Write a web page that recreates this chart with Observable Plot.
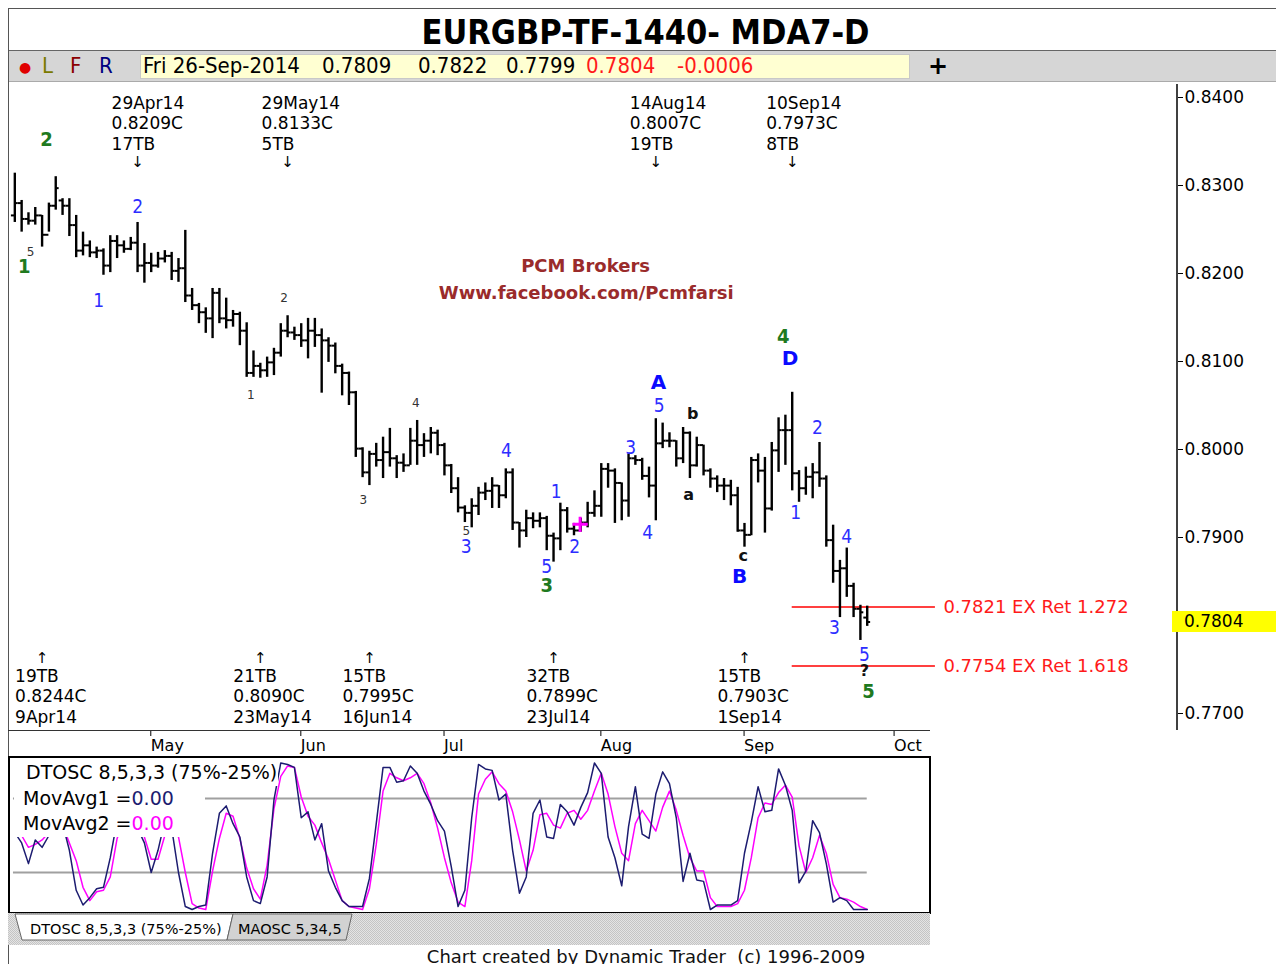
<!DOCTYPE html>
<html>
<head>
<meta charset="utf-8">
<script src="https://cdn.jsdelivr.net/npm/d3@7"></script>
<script src="https://cdn.jsdelivr.net/npm/@observablehq/plot@0.6"></script>
<style>
  html, body { margin:0; padding:0; background:#fff; }
  body { width:1276px; height:964px; overflow:hidden; position:relative; font-family:"DejaVu Sans", sans-serif; color:#000; }
  .a { position:absolute; }
  .cond { font-family:"DejaVu Sans Condensed","DejaVu Sans",sans-serif; font-stretch:condensed; }
  #frame { left:8px; top:8px; width:1268px; height:956px; border-left:1px solid #555; border-top:1px solid #555; box-sizing:border-box; }
  #title { left:0; width:1291px; top:12px; text-align:center; font-weight:bold; font-size:34px; line-height:40px; }
  #toolbar { left:9px; top:50px; width:1267px; height:32px; background:#d6d6d6; border-top:1px solid #666; border-bottom:1px solid #aaa; box-sizing:border-box; }
  #field { left:140px; top:54px; width:770px; height:25px; background:#ffffd2; border:1px solid #c8c8c8; box-sizing:border-box; }
  .tb { top:52px; font-size:22px; line-height:28px; white-space:pre; }
  #strip { left:8px; top:730px; width:922px; height:0; border-top:1px solid #333; }
  #oscBorder { left:8px; top:756px; width:923px; height:158px; border:2px solid #000; box-sizing:border-box; pointer-events:none; }
  .leg { background:#fff; font-size:19px; white-space:pre; }
  #leg1 { left:14px; top:759px; width:264px; height:27px; line-height:27px; padding-left:12px; box-sizing:border-box; }
  #leg2 { left:14px; top:786px; width:191px; height:51px; line-height:25px; padding-left:9px; box-sizing:border-box; }
  #tabs { left:8px; top:913px; width:922px; height:32px; background: repeating-conic-gradient(#c4c4c4 0 25%, #e4e4e4 0 50%) 0 0/2px 2px; }
  #footer { left:0; width:1292px; top:945px; text-align:center; font-size:18px; line-height:24px; white-space:pre; color:#111; }
</style>
</head>
<body>
<div class="a" id="frame"></div>
<div class="a cond" id="title">EURGBP-TF-1440- MDA7-D</div>
<div class="a" id="toolbar"></div>
<div class="a" id="field"></div>
<div class="a tb" style="left:19px;top:53px;font-size:14px;color:#e00000;">●</div>
<div class="a tb cond" style="left:42px;color:#7a7a00;">L</div>
<div class="a tb cond" style="left:70px;color:#8b0000;">F</div>
<div class="a tb cond" style="left:99px;color:#000080;">R</div>
<div class="a tb cond" style="left:143px;">Fri 26-Sep-2014</div>
<div class="a tb cond" style="left:322px;">0.7809</div>
<div class="a tb cond" style="left:418px;">0.7822</div>
<div class="a tb cond" style="left:506px;">0.7799</div>
<div class="a tb cond" style="left:586px;color:#ff1a1a;">0.7804</div>
<div class="a tb cond" style="left:677px;color:#ff1a1a;">-0.0006</div>
<div class="a tb" style="left:928px;font-weight:bold;font-size:24px;">+</div>
<div class="a" id="price" style="left:0;top:84px;"></div>
<div class="a" id="strip"></div>
<div class="a" id="osc" style="left:0;top:757px;"></div>
<div class="a leg" id="leg1">DTOSC 8,5,3,3 (75%-25%)</div>
<div class="a leg" id="leg2">MovAvg1 =<span style="color:#1c1c70">0.00</span>
MovAvg2 =<span style="color:#ff00ff">0.00</span></div>
<div class="a" id="oscBorder"></div>
<div class="a" id="tabs">
  <svg width="922" height="32" style="position:absolute;left:0;top:0;font-family:'DejaVu Sans',sans-serif;">
    <polygon points="7,1 225,1 219,27 14,27" fill="#fff" stroke="#666" stroke-width="1"/>
    <polygon points="225,1 344,1 338,27 219,27" fill="#d2d2d2" stroke="#666" stroke-width="1"/>
    <text x="22" y="21" font-size="14.5">DTOSC 8,5,3,3 (75%-25%)</text>
    <text x="230" y="21" font-size="14.5">MAOSC 5,34,5</text>
  </svg>
</div>
<div class="a" id="footer">Chart created by Dynamic Trader  (c) 1996-2009</div>

<script>
// ---------------- DATA ----------------
// bar sequence numbers (0 = 9 Apr 2014), one per trading day up to Fri 26 Sep 2014
const barIndex = d3.range(-4, 122);

const opens = [
 .8266,.8280,.8262,.8260,.8266,.8244,.8277,.8283,.8277,.8255,
 .8226,.8232,.8224,.8226,.8209,.8237,.8232,.8228,.8235,.8209,
 .8212,.8209,.8217,.8220,.8203,.8206,.8175,.8164,.8156,.8149,
 .8178,.8149,.8147,.8154,.8135,.8087,.8095,.8090,.8099,.8110,
 .8135,.8133,.8130,.8124,.8135,.8130,.8124,.8118,.8095,.8087,
 .8065,.8001,.7974,.7995,.7988,.7997,.7990,.7985,.7982,.8010,
 .8005,.8010,.8019,.8005,.7982,.7956,.7934,.7928,.7936,.7951,
 .7953,.7959,.7948,.7974,.7917,.7908,.7922,.7919,.7922,.7902,
 .7899,.7931,.7910,.7908,.7917,.7928,.7936,.7978,.7976,.7962,
 .7942,.7990,.7988,.7970,.7959,.8007,.8010,.8010,.7990,.8019,
 .7982,.8005,.7976,.7967,.7959,.7959,.7948,.7908,.7903,.7988,
 .7976,.7933,.7999,.8022,.8022,.7973,.7956,.7969,.7974,.7967,
 .7897,.7862,.7865,.7845,.7819,.7809];
const highs = [
 .8314,.8283,.8269,.8275,.8266,.8280,.8310,.8285,.8285,.8266,
 .8247,.8237,.8230,.8228,.8243,.8243,.8237,.8241,.8258,.8234,
 .8223,.8224,.8226,.8224,.8217,.8249,.8183,.8166,.8161,.8183,
 .8183,.8172,.8158,.8156,.8144,.8112,.8098,.8105,.8115,.8143,
 .8152,.8139,.8143,.8149,.8149,.8137,.8127,.8121,.8097,.8088,
 .8066,.8002,.7998,.8007,.8014,.8024,.7993,.7995,.8024,.8033,
 .8018,.8025,.8022,.8007,.7983,.7968,.7936,.7944,.7957,.7962,
 .7968,.7959,.7978,.7978,.7917,.7931,.7928,.7928,.7924,.7905,
 .7939,.7934,.7916,.7922,.7940,.7953,.7984,.7984,.7978,.7962,
 .7995,.7993,.7990,.7980,.8035,.8030,.8019,.8010,.8025,.8020,
 .8014,.8005,.7978,.7970,.7967,.7965,.7957,.7916,.7991,.7995,
 .7991,.8008,.8036,.8039,.8065,.7976,.7980,.7984,.8008,.7970,
 .7914,.7874,.7888,.7848,.7823,.7822];
const lows = [
 .8258,.8247,.8255,.8255,.8230,.8247,.8272,.8266,.8242,.8218,
 .8220,.8218,.8217,.8198,.8201,.8217,.8223,.8226,.8201,.8189,
 .8201,.8206,.8212,.8192,.8190,.8167,.8158,.8143,.8132,.8126,
 .8143,.8137,.8139,.8118,.8082,.8082,.8081,.8082,.8084,.8105,
 .8127,.8124,.8116,.8103,.8116,.8064,.8099,.8086,.8061,.8050,
 .7991,.7968,.7959,.7980,.7967,.7980,.7967,.7974,.7982,.7982,
 .7991,.7995,.7993,.7970,.7950,.7928,.7917,.7911,.7925,.7942,
 .7933,.7933,.7944,.7908,.7888,.7900,.7910,.7911,.7885,.7872,
 .7885,.7905,.7902,.7906,.7911,.7923,.7923,.7956,.7916,.7919,
 .7923,.7982,.7965,.7945,.7919,.8001,.8002,.7980,.7984,.7967,
 .7980,.7970,.7956,.7951,.7942,.7936,.7906,.7889,.7902,.7962,
 .7905,.7930,.7974,.7982,.7953,.7940,.7948,.7944,.7957,.7889,
 .7848,.7809,.7832,.7809,.7783,.7799];
const closes = [
 .8280,.8262,.8260,.8266,.8244,.8277,.8297,.8277,.8255,.8226,
 .8232,.8224,.8226,.8209,.8237,.8232,.8228,.8235,.8209,.8212,
 .8209,.8217,.8220,.8203,.8206,.8175,.8164,.8156,.8149,.8178,
 .8149,.8147,.8154,.8135,.8087,.8095,.8090,.8099,.8110,.8135,
 .8133,.8130,.8124,.8135,.8130,.8124,.8118,.8095,.8087,.8065,
 .8001,.7974,.7995,.7988,.7997,.7990,.7985,.7982,.8010,.8005,
 .8010,.8019,.8005,.7982,.7956,.7934,.7928,.7936,.7951,.7953,
 .7959,.7948,.7974,.7917,.7908,.7922,.7919,.7922,.7902,.7899,
 .7931,.7910,.7908,.7917,.7928,.7936,.7978,.7976,.7962,.7942,
 .7990,.7988,.7970,.7959,.8007,.8010,.8010,.7990,.8019,.7982,
 .8005,.7976,.7967,.7959,.7959,.7948,.7908,.7903,.7988,.7976,
 .7933,.7999,.8022,.8022,.7973,.7956,.7969,.7974,.7967,.7897,
 .7862,.7865,.7845,.7819,.7815,.7804];

// DTOSC 8,5,3,3 : fast line and its moving average
const dtosc = [
 52,45,31,47,42,50,60,58,40,13,
 3,8,14,15,35,60,70,65,55,45,
 25,40,60,55,25,2,0,2,3,38,
 65,70,58,49,22,6,4,22,74,99,
 98,96,62,66,47,58,26,15,6,2,
 2,2,21,58,96,96,86,87,97,92,
 80,71,60,53,29,2,13,62,98,95,
 94,74,78,40,11,22,65,74,49,48,
 71,66,57,69,79,99,92,49,35,16,
 56,83,51,48,78,93,85,62,19,38,
 20,19,0,3,3,3,6,38,59,83,
 66,67,95,84,67,18,26,60,52,31,
 5,8,6,0,0,0];
const dtoscAvg = [
 55,50,42,44,47,52,58,57,45,33,
 15,6,12,13,22,48,60,62,58,49,
 34,34,50,55,49,25,4,1,0,26,
 48,65,63,48,28,14,7,30,68,90,
 97,96,76,63,57,45,34,20,6,2,
 1,0,14,44,80,92,89,87,89,92,
 85,72,55,35,18,5,2,33,78,88,
 93,85,80,66,47,26,40,64,65,57,
 55,65,67,61,67,80,92,78,56,38,
 33,58,67,60,53,69,80,67,50,35,
 26,26,8,2,2,2,4,13,35,62,
 72,71,79,84,76,43,25,35,50,38,
 17,8,7,5,2,0];

// 0.7800 sits under the highlighted last-close box, so it is not labelled
const priceTicks = [0.77, 0.79, 0.80, 0.81, 0.82, 0.83, 0.84];
const monthLabels = ["May", "Jun", "Jul", "Aug", "Sep", "Oct"];
const monthFirstBar = [16, 38, 59, 82, 103, 125];
const oscLevels = [25, 75];

// time-bar pivot notes
const topNotes = [
  {bar: 14, date: "29Apr14", close: "0.8209C", count: "17TB"},
  {bar: 36, date: "29May14", close: "0.8133C", count: "5TB"},
  {bar: 90, date: "14Aug14", close: "0.8007C", count: "19TB"},
  {bar: 110, date: "10Sep14", close: "0.7973C", count: "8TB"}
];
const bottomNotes = [
  {bar: 0, count: "19TB", close: "0.8244C", date: "9Apr14"},
  {bar: 32, count: "21TB", close: "0.8090C", date: "23May14"},
  {bar: 48, count: "15TB", close: "0.7995C", date: "16Jun14"},
  {bar: 75, count: "32TB", close: "0.7899C", date: "23Jul14"},
  {bar: 103, count: "15TB", close: "0.7903C", date: "1Sep14"}
];

// Elliott wave labels: [text, bar, price, kind]
const waveLabels = [
  ["1", -2.6, .8208, "green"], ["5", -1.7, .8224, "small"], ["2", 0.65, .8352, "green"],
  ["2", 14, .8276, "blue"], ["1", 8.3, .8169, "blue"],
  ["2", 35.5, .8172, "small"], ["1", 30.6, .8062, "small"], ["4", 54.8, .8053, "small"],
  ["3", 47.1, .7943, "small"], ["5", 62.2, .7907, "small"], ["3", 62.2, .7889, "blue"],
  ["4", 68.1, .7998, "blue"], ["1", 75.4, .7952, "blue"], ["2", 78.1, .7889, "blue"],
  ["5", 74, .7867, "blue"], ["3", 74, .7845, "green"],
  ["3", 86.3, .8002, "blue"], ["4", 88.8, .7905, "blue"], ["A", 90.4, .8076, "capital"],
  ["5", 90.5, .8049, "blue"], ["b", 95.4, .8041, "lower"], ["a", 94.8, .7948, "lower"],
  ["c", 102.8, .7879, "lower"], ["B", 102.3, .7856, "capital"],
  ["4", 108.7, .8128, "green"], ["D", 109.7, .8103, "capital"],
  ["2", 113.7, .8025, "blue"], ["1", 110.5, .7928, "blue"], ["4", 118, .7901, "blue"],
  ["3", 116.2, .7797, "blue"], ["5", 120.6, .7767, "blue"], ["?", 120.6, .7749, "question"],
  ["5", 121.2, .7725, "green"]
];
const markerCross = [{bar: 78.9, price: .7915}];

const watermark = [
  {text: "PCM Brokers", bar: 79.7, price: .8208},
  {text: "Www.facebook.com/Pcmfarsi", bar: 79.8, price: .8178}
];

const targets = [
  {price: 0.7821, label: "0.7821 EX Ret 1.272"},
  {price: 0.7754, label: "0.7754 EX Ret 1.618"}
];
const targetFromBar = 110, targetToBar = 131;

// ---------------- BUILD ----------------
const bars = barIndex.map((b, k) => ({bar: b, open: opens[k], high: highs[k], low: lows[k], close: closes[k]}));
const osc = barIndex.map((b, k) => ({bar: b, dt: dtosc[k], ma: dtoscAvg[k]}));
const labels = waveLabels.map(([text, bar, price, kind]) => ({text, bar, price, kind}));

const W = 1276;
const xDomain = [-6.1, 166.5];
const baseFont = '"DejaVu Sans", sans-serif';
const condFont = '"DejaVu Sans Condensed", "DejaVu Sans", sans-serif';

const labelStyles = {
  blue:     {fill: "#2d2dff", fontSize: 19, fontWeight: "normal", fontFamily: condFont},
  green:    {fill: "#1f7a1f", fontSize: 20, fontWeight: "bold", fontFamily: condFont},
  small:    {fill: "#333333", fontSize: 12, fontWeight: "normal", fontFamily: baseFont},
  capital:  {fill: "#0a0aff", fontSize: 20, fontWeight: "bold", fontFamily: baseFont},
  lower:    {fill: "#111111", fontSize: 16, fontWeight: "bold", fontFamily: baseFont},
  question: {fill: "#111111", fontSize: 16, fontWeight: "bold", fontFamily: baseFont}
};
const labelMarks = Object.entries(labelStyles).map(([kind, s]) =>
  Plot.text(labels.filter(d => d.kind === kind), {x: "bar", y: "price", text: "text", ...s})
);

const monthTickPos = monthFirstBar.map(b => b - 0.5);
const monthName = new Map(monthTickPos.map((p, k) => [p, monthLabels[k]]));

const priceChart = Plot.plot({
  width: W, height: 673,
  marginLeft: 0, marginRight: 99, marginTop: 13, marginBottom: 44,
  x: {type: "linear", domain: xDomain, axis: null},
  y: {domain: [0.77, 0.84], axis: null},
  style: {fontFamily: baseFont, background: "transparent", color: "#000", overflow: "visible"},
  marks: [
    Plot.axisY({anchor: "right", ticks: priceTicks, tickFormat: d => d.toFixed(4), tickSize: 5, tickPadding: 2, fontSize: 17, label: null}),
    Plot.axisX({anchor: "bottom", ticks: monthTickPos, tickFormat: d => monthName.get(d), tickSize: 6, tickPadding: 3, textAnchor: "start", dx: 3, dy: 17, fontSize: 16, label: null}),
    Plot.ruleY(targets, {y: "price", x1: targetFromBar, x2: targetToBar, stroke: "#ff0000", strokeWidth: 1.5}),
    Plot.text(targets, {x: targetToBar, y: "price", text: "label", textAnchor: "start", dx: 8, fill: "#ff1a1a", fontSize: 18}),
    Plot.text(watermark, {x: "bar", y: "price", text: "text", fill: "#9a2b2b", fontWeight: "bold", fontSize: 18}),
    Plot.ruleX(bars, {x: "bar", y1: "low", y2: "high", stroke: "#000", strokeWidth: 2.4}),
    Plot.ruleY(bars, {y: "open", x1: d => d.bar - 0.5, x2: "bar", stroke: "#000", strokeWidth: 2}),
    Plot.ruleY(bars, {y: "close", x1: "bar", x2: d => d.bar + 0.5, stroke: "#000", strokeWidth: 2}),
    ...labelMarks,
    Plot.dot(markerCross, {x: "bar", y: "price", symbol: "plus", r: 5, stroke: "#ff00ff", strokeWidth: 3}),
    Plot.text(topNotes, {x: "bar", text: d => `${d.date}\n${d.close}\n${d.count}`, frameAnchor: "top", lineAnchor: "top", textAnchor: "start", dx: -26, dy: -3, fontSize: 17, lineHeight: 1.2}),
    Plot.text(topNotes, {x: "bar", text: () => "↓", frameAnchor: "top", lineAnchor: "top", dy: 59, fontSize: 15}),
    Plot.text(bottomNotes, {x: "bar", text: d => `${d.count}\n${d.close}\n${d.date}`, frameAnchor: "bottom", lineAnchor: "bottom", textAnchor: "start", dx: -27, dy: 9, fontSize: 17, lineHeight: 1.2}),
    Plot.text(bottomNotes, {x: "bar", text: () => "↑", frameAnchor: "bottom", lineAnchor: "bottom", dy: -51, fontSize: 15})
  ]
});
document.getElementById("price").appendChild(priceChart);

// right price-axis line and highlighted last close, positioned through the plot's scales
{
  const xs = priceChart.scale("x"), ys = priceChart.scale("y");
  const ax = xs.apply(xDomain[1]);
  const g = d3.select(priceChart).append("g").attr("text-anchor", "start");
  g.append("line").attr("x1", ax).attr("x2", ax).attr("y1", 0).attr("y2", 646).attr("stroke", "#000").attr("stroke-width", 1.5);
  const last = closes[closes.length - 1];
  const yc = ys.apply(last);
  g.append("rect").attr("x", ax - 5).attr("y", yc - 10.5).attr("width", W - ax + 5).attr("height", 21).attr("fill", "#ffff00");
  g.append("text").attr("x", ax + 7).attr("y", yc).attr("dy", "0.35em").attr("font-size", 17).attr("fill", "#000").attr("text-anchor", "start").text(last.toFixed(4));
}

const oscChart = Plot.plot({
  width: W, height: 156,
  marginLeft: 0, marginRight: 99, marginTop: 4, marginBottom: 4,
  x: {type: "linear", domain: xDomain, axis: null},
  y: {domain: [0, 100], axis: null},
  style: {fontFamily: baseFont, background: "transparent", overflow: "visible"},
  marks: [
    Plot.ruleY(oscLevels, {x1: barIndex[0] - 0.2, x2: barIndex[barIndex.length - 1], stroke: "#a0a0a0", strokeWidth: 2}),
    Plot.line(osc, {x: "bar", y: "ma", stroke: "#ff00ff", strokeWidth: 1.5}),
    Plot.line(osc, {x: "bar", y: "dt", stroke: "#1c1c70", strokeWidth: 1.5})
  ]
});
document.getElementById("osc").appendChild(oscChart);
</script>
</body>
</html>
